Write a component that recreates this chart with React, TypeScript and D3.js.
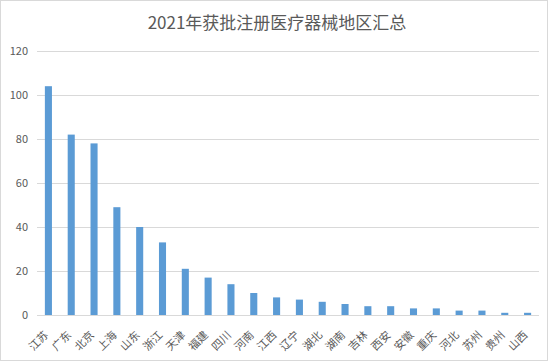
import * as d3 from 'd3';
import { useEffect, useRef } from 'react';

const regions = ['江苏', '广东', '北京', '上海', '山东', '浙江', '天津', '福建', '四川', '河南', '江西',
    '辽宁', '湖北', '湖南', '吉林', '西安', '安徽', '重庆', '河北', '苏州', '贵州', '山西'];
const counts = [104, 82, 78, 49, 40, 33, 21, 17, 14, 10, 8, 7, 6, 5, 4, 4, 3, 3, 2, 2, 1, 1];
const yTicks = [0, 20, 40, 60, 80, 100, 120];
const title = '2021年获批注册医疗器械地区汇总';

const App = () => {
    const ref = useRef<SVGSVGElement>(null);

    useEffect(() => {
        const fontFamily = '"Noto Sans CJK SC", "Noto Sans", sans-serif';
        const textColor = '#595959';

        const svg = d3.select(ref.current);
        svg.selectAll('*').remove();

        // chart border
        svg.append('rect')
            .attr('x', 0.5).attr('y', 0.5)
            .attr('width', 547).attr('height', 360)
            .attr('fill', '#fff')
            .attr('stroke', '#d9d9d9');

        svg.append('text')
            .attr('x', 277).attr('y', 29)
            .attr('text-anchor', 'middle')
            .style('font-family', fontFamily)
            .style('font-size', '17px')
            .style('fill', textColor)
            .text(title);

        const x = d3.scaleBand().domain(regions).range([37, 539]).paddingInner(0.69).paddingOuter(0.345);
        const y = d3.scaleLinear().domain([0, 120]).range([315, 51]);

        // gridlines
        svg.append('g')
            .selectAll('line')
            .data(yTicks)
            .enter()
            .append('line')
            .attr('x1', 37).attr('x2', 539)
            .attr('y1', (d: number) => Math.round(y(d)) + 0.5)
            .attr('y2', (d: number) => Math.round(y(d)) + 0.5)
            .attr('stroke', '#d9d9d9')
            .attr('stroke-width', 1);

        svg.append('g')
            .selectAll('text')
            .data(yTicks)
            .enter()
            .append('text')
            .attr('x', 28)
            .attr('y', (d: number) => y(d) + 4)
            .attr('text-anchor', 'end')
            .style('font-family', fontFamily)
            .style('font-size', '11px')
            .style('fill', textColor)
            .text((d: number) => d);

        // bars
        svg.append('g')
            .selectAll('rect')
            .data(counts)
            .enter()
            .append('rect')
            .attr('x', (_d: number, i: number) => x(regions[i])!)
            .attr('y', (d: number) => y(d))
            .attr('width', x.bandwidth())
            .attr('height', (d: number) => y(0) - y(d))
            .attr('fill', '#5b9bd5');

        // rotated category labels
        svg.append('g')
            .selectAll('text')
            .data(regions)
            .enter()
            .append('text')
            .attr('transform', (d: string) => `translate(${x(d)! + x.bandwidth() / 2 - 2},${333}) rotate(-45)`)
            .attr('text-anchor', 'end')
            .attr('dy', '0.35em')
            .style('font-family', fontFamily)
            .style('font-size', '11px')
            .style('fill', textColor)
            .text((d: string) => d);
    }, []);

    return (
        <svg ref={ref} width={554} height={362}
            style={{ position: 'absolute', left: 0, top: 0, background: '#fff' }} />
    );
};

export default App;
